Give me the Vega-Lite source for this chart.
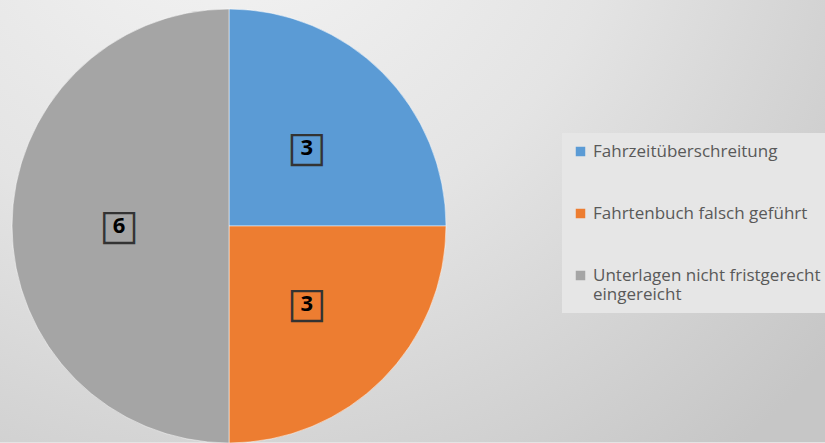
{
  "$schema": "https://vega.github.io/schema/vega-lite/v6.json",
  "width": 825,
  "height": 443,
  "autosize": {"type": "fit", "contains": "padding"},
  "padding": 0,
  "background": "#e4e4e4",
  "config": {"view": {"stroke": null}},
  "data": {
    "values": [
      {"Kategorie": "Fahrzeitüberschreitung", "Anzahl": 3, "Reihenfolge": 1},
      {"Kategorie": "Fahrtenbuch falsch geführt", "Anzahl": 3, "Reihenfolge": 2},
      {"Kategorie": "Unterlagen nicht fristgerecht eingereicht", "Anzahl": 6, "Reihenfolge": 3}
    ]
  },
  "layer": [
    {
      "data": {"values": [{"Hintergrund": 1}]},
      "mark": {
        "type": "rect",
        "color": {
          "gradient": "radial",
          "x1": 0.28, "y1": 0.05, "r1": 0,
          "x2": 0.28, "y2": 0.05, "r2": 0.95,
          "stops": [
            {"offset": 0, "color": "#f6f6f6"},
            {"offset": 0.5, "color": "#e4e4e4"},
            {"offset": 1, "color": "#c6c6c6"}
          ]
        }
      },
      "encoding": {}
    },
    {
      "mark": {"type": "arc", "x": 229, "y": 226, "radius": 217, "stroke": "#ffffff", "strokeWidth": 0.5},
      "encoding": {
        "theta": {"field": "Anzahl", "type": "quantitative", "stack": true},
        "order": {"field": "Reihenfolge", "type": "quantitative"},
        "color": {
          "field": "Kategorie",
          "type": "nominal",
          "scale": {
            "domain": ["Fahrzeitüberschreitung", "Fahrtenbuch falsch geführt", "Unterlagen nicht fristgerecht eingereicht"],
            "range": ["#5B9BD5", "#ED7D31", "#A5A5A5"]
          },
          "legend": {
            "orient": "none",
            "legendX": 562,
            "legendY": 133,
            "title": null,
            "fillColor": "#e6e6e6",
            "padding": 10,
            "symbolType": "square",
            "symbolSize": 90,
            "symbolStrokeWidth": 0,
            "labelOffset": 4,
            "labelFont": "Open Sans",
            "labelFontSize": 17,
            "labelColor": "#595959",
            "labelLimit": 300,
            "rowPadding": 44,
            "labelExpr": "datum.label == 'Unterlagen nicht fristgerecht eingereicht' ? ['Unterlagen nicht fristgerecht', 'eingereicht'] : datum.label"
          }
        }
      }
    },
    {
      "mark": {"type": "text", "x": 229, "y": 226, "radius": 110, "text": "□", "font": "DejaVu Sans", "fontSize": 42, "color": "#333333", "baseline": "middle", "align": "center"},
      "encoding": {
        "theta": {"field": "Anzahl", "type": "quantitative", "stack": true},
        "order": {"field": "Reihenfolge", "type": "quantitative"},
        "detail": {"field": "Kategorie", "type": "nominal"}
      }
    },
    {
      "mark": {"type": "text", "x": 229, "y": 226, "radius": 110, "font": "Open Sans", "fontSize": 22, "fontWeight": "bold", "color": "#000000", "baseline": "middle", "align": "center"},
      "encoding": {
        "theta": {"field": "Anzahl", "type": "quantitative", "stack": true},
        "order": {"field": "Reihenfolge", "type": "quantitative"},
        "detail": {"field": "Kategorie", "type": "nominal"},
        "text": {"field": "Anzahl", "type": "quantitative"}
      }
    }
  ]
}
